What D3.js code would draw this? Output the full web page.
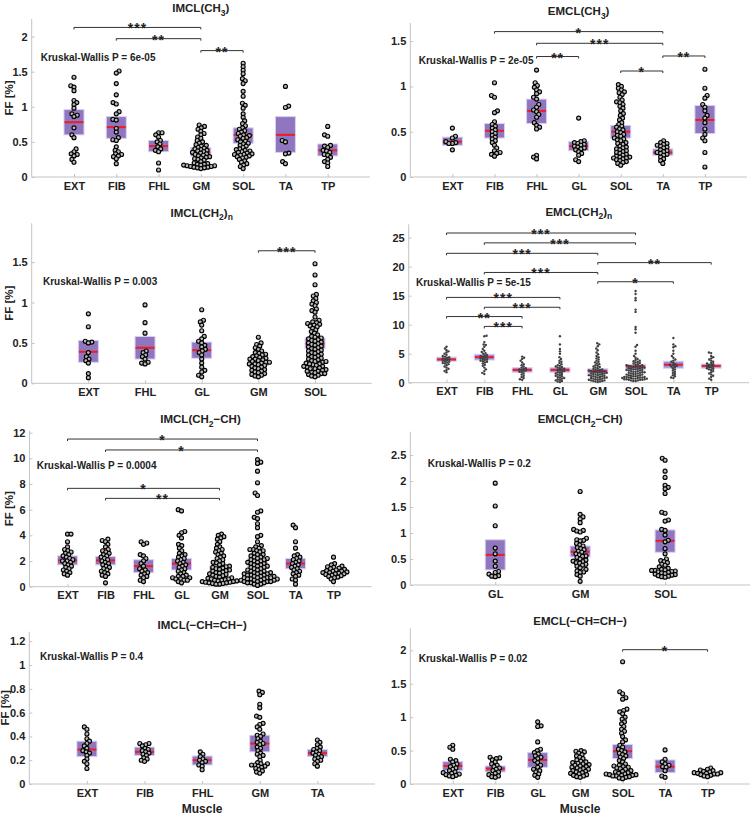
<!DOCTYPE html>
<html><head><meta charset="utf-8">
<script src="https://cdn.jsdelivr.net/npm/d3@7"></script>
<style>
body{margin:0;background:#fff}
svg{display:block}
text{font-family:"Liberation Sans",Arial,Helvetica,sans-serif;font-weight:bold;fill:#222}
</style>
</head><body>
<svg id="chart" width="754" height="815"></svg>
<script>
// ---------- DATA ----------
// Panel 1: IMCL(CH3)
const p1Categories = ["EXT","FIB","FHL","GM","SOL","TA","TP"];
const p1Values = [
  [1.42,1.30,1.28,1.23,1.09,1.06,1.03,0.98,0.90,0.88,0.86,0.70,0.60,0.56,0.40,0.36,0.33,0.32,0.30,0.25,0.21],
  [1.51,1.48,1.33,1.17,1.06,1.04,0.93,0.90,0.82,0.81,0.69,0.64,0.56,0.53,0.52,0.43,0.38,0.36,0.33,0.32,0.30,0.29,0.26,0.19],
  [0.63,0.63,0.60,0.57,0.52,0.50,0.47,0.43,0.40,0.38,0.36,0.20,0.10],
  [0.74,0.72,0.70,0.68,0.65,0.62,0.60,0.57,0.55,0.52,0.50,0.48,0.46,0.45,0.44,0.42,0.41,0.40,0.39,0.38,0.37,0.36,0.35,0.34,0.33,0.32,0.31,0.30,0.29,0.28,0.27,0.26,0.25,0.24,0.22,0.20,0.19,0.18,0.18,0.17,0.17,0.16,0.16,0.15,0.15,0.14,0.14,0.13,0.13,0.12],
  [1.62,1.57,1.52,1.47,1.40,1.37,1.33,1.22,1.15,1.05,1.02,0.98,0.90,0.85,0.80,0.76,0.73,0.70,0.68,0.66,0.64,0.62,0.60,0.59,0.58,0.56,0.55,0.53,0.51,0.50,0.48,0.47,0.45,0.44,0.42,0.40,0.39,0.38,0.37,0.36,0.35,0.34,0.33,0.32,0.32,0.31,0.30,0.29,0.28,0.27,0.25,0.23,0.21,0.19,0.17,0.15,0.12],
  [1.29,1.01,0.99,0.52,0.50,0.34,0.33,0.22,0.19],
  [0.72,0.60,0.58,0.45,0.44,0.42,0.38,0.37,0.35,0.32,0.31,0.28,0.25,0.22,0.20,0.15]
];
const p1BoxLow  = [0.60,0.55,0.36,0.29,0.48,0.35,0.30];
const p1BoxHigh = [0.96,0.86,0.52,0.42,0.70,0.86,0.47];
const p1Median  = [0.78,0.71,0.44,0.35,0.60,0.60,0.38];
const p1Ticks = [0,0.5,1,1.5,2];
const p1Sig = [["EXT","GM",2.13,"***"],["FIB","GM",1.97,"**"],["GM","SOL",1.80,"**"]];

// Panel 2: EMCL(CH3)
const p2Categories = ["EXT","FIB","FHL","GL","SOL","TA","TP"];
const p2Values = [
  [0.54,0.45,0.43,0.39,0.38,0.37,0.37,0.30],
  [1.04,0.90,0.88,0.73,0.71,0.61,0.58,0.56,0.54,0.52,0.50,0.48,0.46,0.44,0.42,0.40,0.38,0.35,0.32,0.29,0.27,0.26,0.25,0.23],
  [1.18,1.04,1.01,0.99,0.96,0.94,0.92,0.88,0.86,0.80,0.77,0.74,0.72,0.69,0.66,0.60,0.57,0.55,0.53,0.24,0.22,0.20],
  [0.65,0.40,0.39,0.38,0.37,0.36,0.35,0.34,0.33,0.32,0.31,0.30,0.28,0.26,0.24,0.19,0.17],
  [1.02,1.00,0.98,0.96,0.94,0.93,0.91,0.88,0.85,0.83,0.82,0.80,0.78,0.76,0.73,0.70,0.68,0.65,0.63,0.60,0.58,0.56,0.55,0.53,0.52,0.50,0.49,0.47,0.46,0.45,0.43,0.42,0.41,0.40,0.38,0.37,0.36,0.34,0.33,0.32,0.31,0.30,0.29,0.28,0.27,0.26,0.25,0.24,0.23,0.22,0.22,0.21,0.21,0.20,0.19,0.18,0.17,0.16,0.15,0.13],
  [0.40,0.38,0.37,0.36,0.35,0.34,0.33,0.32,0.30,0.29,0.28,0.27,0.26,0.25,0.24,0.22,0.20,0.18,0.15],
  [1.19,0.98,0.90,0.87,0.80,0.77,0.73,0.68,0.65,0.60,0.53,0.47,0.43,0.40,0.27,0.11]
];
const p2BoxLow  = [0.35,0.43,0.59,0.29,0.43,0.24,0.48];
const p2BoxHigh = [0.44,0.59,0.86,0.39,0.57,0.31,0.79];
const p2Median  = [0.39,0.51,0.73,0.34,0.50,0.27,0.63];
const p2Ticks = [0,0.5,1,1.5];
const p2Sig = [["FIB","TA",1.605,"*"],["FHL","TA",1.476,"***"],["FHL","GL",1.33,"**"],["TA","TP",1.336,"**"],["SOL","TA",1.17,"*"]];

// Panel 3: IMCL(CH2)n
const p3Categories = ["EXT","FHL","GL","GM","SOL"];
const p3Values = [
  [0.86,0.70,0.52,0.51,0.50,0.38,0.33,0.30,0.28,0.25,0.12,0.07],
  [0.97,0.75,0.62,0.40,0.38,0.35,0.33,0.30,0.26,0.25,0.24],
  [0.91,0.78,0.76,0.72,0.65,0.58,0.55,0.52,0.50,0.47,0.45,0.42,0.40,0.38,0.35,0.30,0.25,0.20,0.16,0.14,0.10,0.08],
  [0.57,0.50,0.48,0.46,0.44,0.42,0.40,0.38,0.37,0.36,0.35,0.34,0.33,0.32,0.31,0.30,0.30,0.29,0.28,0.27,0.26,0.26,0.25,0.24,0.24,0.23,0.22,0.21,0.20,0.19,0.18,0.17,0.16,0.15,0.14,0.13,0.12,0.11,0.10,0.09,0.08],
  [1.48,1.34,1.22,1.10,1.08,1.05,1.02,1.00,0.98,0.96,0.92,0.90,0.88,0.82,0.78,0.76,0.75,0.74,0.73,0.72,0.71,0.70,0.68,0.66,0.64,0.62,0.60,0.58,0.57,0.56,0.55,0.54,0.53,0.52,0.51,0.50,0.49,0.48,0.47,0.46,0.45,0.44,0.43,0.42,0.41,0.40,0.39,0.38,0.37,0.36,0.35,0.34,0.33,0.32,0.31,0.30,0.29,0.28,0.27,0.26,0.25,0.24,0.23,0.22,0.21,0.20,0.19,0.18,0.17,0.16,0.15,0.14,0.13,0.12,0.11,0.10,0.09,0.08,0.27,0.24,0.21,0.18,0.15,0.12]
];
const p3BoxLow  = [0.26,0.30,0.31,0.22,0.43];
const p3BoxHigh = [0.53,0.58,0.51,0.29,0.56];
const p3Median  = [0.39,0.44,0.41,0.25,0.49];
const p3Ticks = [0,0.5,1,1.5];
const p3Sig = [["GM","SOL",1.64,"***"]];

// Panel 4: EMCL(CH2)n
const p4Categories = ["EXT","FIB","FHL","GL","GM","SOL","TA","TP"];
const p4Values = [
  [6.2,5.9,5.6,5.4,5.2,5.0,4.8,4.6,4.5,4.4,4.3,4.2,4.1,4.0,3.9,3.8,3.7,3.6,3.5,3.4,3.3,3.2,3.0,2.8,2.6,2.4,2.2,2.0,1.8],
  [8.1,8.0,7.0,6.6,6.5,6.2,5.8,5.5,5.3,5.1,5.0,4.8,4.7,4.6,4.5,4.4,4.3,4.2,4.1,4.0,3.9,3.8,3.7,3.6,3.5,3.3,3.1,2.9,2.6,2.3,2.0,1.7,1.5],
  [4.5,4.3,4.1,3.8,3.5,3.2,3.0,2.8,2.6,2.5,2.4,2.3,2.2,2.1,2.0,1.9,1.8,1.6,1.4,1.2,1.0,0.8,0.6,0.5],
  [8.0,6.6,5.8,5.4,5.0,4.4,4.1,3.8,3.6,3.4,3.2,3.0,2.9,2.8,2.7,2.6,2.5,2.4,2.3,2.2,2.1,2.0,1.9,1.8,1.7,1.6,1.5,1.4,1.3,1.2,1.1,1.0,0.9,0.8,0.7,0.6,0.5,0.4,0.3,0.2,0.1],
  [6.8,6.6,6.3,5.9,5.6,5.2,4.9,4.6,4.4,4.2,4.0,3.8,3.6,3.5,3.3,3.2,3.0,2.9,2.8,2.7,2.6,2.5,2.4,2.3,2.2,2.2,2.1,2.1,2.0,2.0,1.9,1.9,1.8,1.8,1.7,1.7,1.6,1.6,1.5,1.5,1.4,1.4,1.3,1.3,1.2,1.2,1.1,1.1,1.0,1.0,0.9,0.9,0.8,0.8,0.7,0.7,0.6,0.6,0.5,0.5,0.4,0.4,0.3,0.3,0.2,0.2,0.1],
  [15.8,15.3,14.6,14.2,12.6,12.2,9.6,9.2,8.6,6.5,6.2,5.5,5.0,4.6,4.3,4.1,3.9,3.8,3.7,3.6,3.5,3.4,3.3,3.2,3.1,3.0,3.0,2.9,2.9,2.8,2.8,2.7,2.7,2.6,2.6,2.5,2.5,2.4,2.4,2.3,2.3,2.2,2.2,2.1,2.1,2.0,2.0,1.9,1.9,1.8,1.8,1.7,1.7,1.6,1.6,1.5,1.5,1.4,1.4,1.3,1.3,1.2,1.2,1.1,1.1,1.0,1.0,1.0,0.9,0.9,0.9,0.8,0.8,0.8,0.7,0.7,0.7,0.6,0.6,0.6,0.5,0.5,0.5,0.4,0.4,0.3,0.3],
  [7.7,6.6,6.3,6.1,5.5,5.0,4.6,4.3,4.0,3.8,3.6,3.4,3.2,3.1,3.0,2.9,2.8,2.7,2.5,2.3,2.1,1.9,1.7,1.5,1.3,1.1,0.9,0.8],
  [5.2,5.1,4.6,4.4,4.2,4.0,3.8,3.6,3.4,3.3,3.2,3.1,3.0,2.9,2.8,2.7,2.6,2.5,2.4,2.3,2.2,2.0,1.8,1.6,1.4,1.2,1.0,0.7,0.5]
];
const p4BoxLow  = [3.7,3.9,1.8,1.8,1.6,2.3,2.5,2.5];
const p4BoxHigh = [4.4,4.9,2.6,2.6,2.4,3.1,3.7,3.2];
const p4Median  = [4.0,4.4,2.2,2.2,2.0,2.8,3.1,2.9];
const p4Ticks = [0,5,10,15,20,25];
const p4Sig = [["EXT","SOL",25.8,"***"],["FIB","SOL",24.1,"***"],["EXT","GM",22.3,"***"],["GM","TP",20.7,"**"],["FIB","GM",19.0,"***"],["GM","TA",17.4,"*"],["EXT","GL",14.7,"***"],["FIB","GL",13.0,"***"],["EXT","FHL",11.4,"**"],["FIB","FHL",9.7,"***"]];

// Panel 5: IMCL(CH2-CH)
const p5Categories = ["EXT","FIB","FHL","GL","GM","SOL","TA","TP"];
const p5Values = [
  [4.1,4.1,3.5,3.1,2.9,2.8,2.7,2.6,2.5,2.4,2.3,2.2,2.1,2.0,2.0,1.9,1.8,1.7,1.6,1.5,1.4,1.3,1.2,1.1,1.0,0.9],
  [3.7,3.6,3.5,3.3,3.1,2.9,2.8,2.7,2.6,2.5,2.4,2.3,2.2,2.1,2.0,1.9,1.8,1.7,1.6,1.5,1.4,1.3,1.2,1.1,1.0,0.9,0.8,0.3],
  [3.5,3.4,3.3,2.5,2.4,2.2,2.0,1.8,1.6,1.4,1.3,1.2,1.1,1.0,0.9,0.8,0.7,0.5,0.4],
  [6.0,5.9,4.3,4.2,4.0,3.8,3.3,3.2,3.0,2.8,2.6,2.5,2.4,2.3,2.2,2.1,2.0,1.9,1.8,1.7,1.6,1.5,1.4,1.3,1.2,1.1,1.0,0.9,0.8,0.8,0.7,0.7,0.6,0.6,0.5,0.5,0.4,0.3],
  [4.1,4.0,3.9,3.8,3.7,3.5,3.3,3.1,3.0,2.9,2.8,2.7,2.6,2.5,2.4,2.3,2.2,2.1,2.0,1.9,1.85,1.8,1.7,1.6,1.55,1.5,1.45,1.4,1.35,1.3,1.25,1.2,1.15,1.1,1.05,1.0,0.95,0.9,0.85,0.8,0.75,0.7,0.65,0.6,0.6,0.55,0.5,0.5,0.45,0.45,0.4,0.4,0.35,0.35,0.3,0.3,0.25,0.25,0.2,0.2],
  [9.9,9.7,9.6,9.0,8.1,7.3,7.1,5.9,5.8,5.4,5.3,4.9,4.6,4.0,3.9,3.5,3.2,3.1,3.0,2.9,2.9,2.8,2.8,2.7,2.6,2.5,2.5,2.4,2.3,2.3,2.2,2.2,2.1,2.1,2.0,2.0,1.9,1.9,1.8,1.8,1.7,1.7,1.6,1.6,1.5,1.5,1.4,1.4,1.3,1.3,1.2,1.2,1.1,1.1,1.1,1.0,1.0,1.0,0.9,0.9,0.9,0.8,0.8,0.8,0.7,0.7,0.7,0.7,0.6,0.6,0.6,0.6,0.5,0.5,0.5,0.5,0.4,0.4,0.4,0.4,0.3,0.3,0.3,0.2,0.2,0.1],
  [4.8,4.6,3.5,3.0,2.5,2.4,2.3,2.2,2.1,2.0,1.9,1.8,1.7,1.6,1.5,1.4,1.3,1.2,1.1,1.0,0.9,0.8,0.6,0.5,0.2],
  [2.3,1.8,1.7,1.6,1.55,1.5,1.45,1.4,1.35,1.3,1.25,1.2,1.2,1.15,1.1,1.1,1.05,1.0,1.0,0.95,0.9,0.85,0.8,0.75,0.7,0.6,0.4]
];
const p5BoxLow  = [1.7,1.7,1.1,1.3,1.2,1.6,1.4,1.05];
const p5BoxHigh = [2.4,2.35,2.1,2.2,1.6,2.15,2.2,1.3];
const p5Median  = [2.05,2.05,1.6,1.8,1.35,1.95,1.8,1.2];
const p5Ticks = [0,2,4,6,8,10,12];
const p5Sig = [["EXT","SOL",11.5,"*"],["FIB","SOL",10.65,"*"],["EXT","GM",7.66,"*"],["FIB","GM",6.88,"**"]];

// Panel 6: EMCL(CH2-CH)
const p6Categories = ["GL","GM","SOL"];
const p6Values = [
  [1.96,1.52,1.14,0.71,0.60,0.46,0.36,0.26,0.24,0.21,0.18,0.17,0.16],
  [1.80,1.36,1.31,1.27,1.20,1.07,1.05,1.04,1.02,0.90,0.87,0.86,0.85,0.80,0.77,0.75,0.72,0.70,0.68,0.65,0.63,0.60,0.58,0.56,0.55,0.53,0.50,0.48,0.46,0.45,0.43,0.42,0.40,0.38,0.36,0.33,0.30,0.27,0.25,0.24,0.20,0.17,0.07],
  [2.44,2.40,2.19,2.07,1.92,1.88,1.85,1.76,1.40,1.38,1.25,1.23,1.07,1.05,0.96,0.86,0.83,0.70,0.60,0.50,0.47,0.45,0.43,0.40,0.38,0.35,0.32,0.30,0.29,0.28,0.28,0.27,0.26,0.25,0.24,0.23,0.22,0.21,0.20,0.19,0.18,0.17,0.16,0.15]
];
const p6BoxLow  = [0.29,0.54,0.63];
const p6BoxHigh = [0.87,0.75,1.06];
const p6Median  = [0.58,0.64,0.85];
const p6Ticks = [0,0.5,1,1.5,2,2.5];
const p6Sig = [];

// Panel 7: IMCL(-CH=CH-)
const p7Categories = ["EXT","FIB","FHL","GM","TA"];
const p7Values = [
  [0.48,0.46,0.42,0.38,0.36,0.34,0.32,0.30,0.28,0.27,0.26,0.24,0.21,0.19,0.17,0.13],
  [0.34,0.34,0.33,0.32,0.30,0.29,0.28,0.27,0.26,0.25,0.24,0.22,0.21,0.20,0.19],
  [0.27,0.25,0.23,0.21,0.20,0.19,0.18,0.16,0.15,0.12],
  [0.78,0.77,0.75,0.67,0.64,0.57,0.56,0.51,0.50,0.48,0.46,0.42,0.41,0.40,0.38,0.36,0.35,0.34,0.33,0.31,0.30,0.28,0.26,0.25,0.24,0.23,0.20,0.18,0.17,0.17,0.16,0.16,0.15,0.15,0.14,0.13,0.12,0.11,0.10,0.09],
  [0.37,0.35,0.33,0.31,0.30,0.29,0.28,0.27,0.26,0.25,0.24,0.23,0.22,0.21,0.20,0.19,0.17,0.15]
];
const p7BoxLow  = [0.23,0.24,0.16,0.27,0.23];
const p7BoxHigh = [0.36,0.31,0.235,0.41,0.29];
const p7Median  = [0.29,0.27,0.20,0.34,0.26];
const p7Ticks = [0,0.2,0.4,0.6,0.8,1,1.2];
const p7Sig = [];

// Panel 8: EMCL(-CH=CH-)
const p8Categories = ["EXT","FIB","GL","GM","SOL","TA","TP"];
const p8Values = [
  [0.58,0.55,0.52,0.37,0.35,0.33,0.30,0.28,0.26,0.24,0.22,0.20,0.18,0.17,0.16,0.15,0.14,0.13,0.12,0.11],
  [0.40,0.39,0.38,0.36,0.33,0.30,0.28,0.26,0.24,0.22,0.20,0.18,0.16,0.14,0.12,0.11,0.10],
  [0.93,0.87,0.86,0.63,0.52,0.50,0.47,0.45,0.42,0.40,0.38,0.35,0.32,0.28,0.25,0.22,0.20,0.18,0.15,0.13,0.10],
  [0.50,0.49,0.48,0.46,0.44,0.42,0.40,0.38,0.36,0.34,0.33,0.32,0.31,0.30,0.29,0.28,0.27,0.26,0.25,0.24,0.23,0.22,0.21,0.20,0.19,0.18,0.17,0.16,0.15,0.14,0.13,0.12,0.11,0.10],
  [1.83,1.38,1.35,1.29,1.27,1.12,1.10,1.08,1.05,1.00,0.97,0.93,0.90,0.86,0.82,0.79,0.76,0.71,0.66,0.63,0.58,0.55,0.52,0.50,0.48,0.46,0.44,0.42,0.40,0.38,0.35,0.33,0.30,0.28,0.27,0.26,0.25,0.24,0.23,0.22,0.20,0.19,0.18,0.17,0.16,0.15,0.15,0.14,0.14,0.13,0.13,0.12,0.12,0.11,0.10,0.09,0.08],
  [0.51,0.37,0.33,0.30,0.28,0.26,0.25,0.20,0.12,0.10],
  [0.24,0.22,0.21,0.20,0.19,0.18,0.17,0.17,0.16,0.16,0.15,0.15,0.14,0.13,0.12,0.11]
];
const p8BoxLow  = [0.20,0.18,0.25,0.21,0.38,0.17,0.145];
const p8BoxHigh = [0.335,0.27,0.47,0.30,0.59,0.36,0.175];
const p8Median  = [0.27,0.23,0.36,0.26,0.49,0.26,0.16];
const p8Ticks = [0,0.5,1,1.5,2];
const p8Sig = [["SOL","TP",2.01,"*"]];

// ---------- LAYOUT / PANEL SPECS ----------
const panels = [
  {title:[["IMCL(CH",0],["3",1],[")",0]], cats:p1Categories, vals:p1Values, lo:p1BoxLow, hi:p1BoxHigh, med:p1Median, ticks:p1Ticks, sig:p1Sig,
   kw:"Kruskal-Wallis P = 6e-05", x0:31.7, x1:370, yb:177, yt:19, ymax:2.25, titleY:12, kwX:40.7, kwY:60.5, ylabX:13},
  {title:[["EMCL(CH",0],["3",1],[")",0]], cats:p2Categories, vals:p2Values, lo:p2BoxLow, hi:p2BoxHigh, med:p2Median, ticks:p2Ticks, sig:p2Sig,
   kw:"Kruskal-Wallis P = 2e-05", x0:410.3, x1:747, yb:177, yt:23, ymax:1.70, titleY:15, kwX:418.7, kwY:64},
  {title:[["IMCL(CH",0],["2",1],[")",0],["n",1]], cats:p3Categories, vals:p3Values, lo:p3BoxLow, hi:p3BoxHigh, med:p3Median, ticks:p3Ticks, sig:p3Sig,
   kw:"Kruskal-Wallis P = 0.003", x0:31.7, x1:371.7, yb:383.3, yt:223.3, ymax:1.98, titleY:216.5, kwX:43, kwY:285, ylabX:13},
  {title:[["EMCL(CH",0],["2",1],[")",0],["n",1]], cats:p4Categories, vals:p4Values, lo:p4BoxLow, hi:p4BoxHigh, med:p4Median, ticks:p4Ticks, sig:p4Sig,
   kw:"Kruskal-Wallis P = 5e-15", x0:408.7, x1:749, yb:382.7, yt:224.3, ymax:27.3, titleY:215.5, kwX:416, kwY:286, small:true},
  {title:[["IMCL(CH",0],["2",1],["\u2212CH)",0]], cats:p5Categories, vals:p5Values, lo:p5BoxLow, hi:p5BoxHigh, med:p5Median, ticks:p5Ticks, sig:p5Sig,
   kw:"Kruskal-Wallis P = 0.0004", x0:29.5, x1:371.5, yb:586.7, yt:430.7, ymax:12.15, titleY:423, kwX:36.7, kwY:469, ylabX:13},
  {title:[["EMCL(CH",0],["2",1],["\u2212CH)",0]], cats:p6Categories, vals:p6Values, lo:p6BoxLow, hi:p6BoxHigh, med:p6Median, ticks:p6Ticks, sig:p6Sig,
   kw:"Kruskal-Wallis P = 0.2", x0:410.3, x1:750, yb:585, yt:431.7, ymax:2.95, titleY:423, kwX:427.7, kwY:467},
  {title:[["IMCL(\u2212CH=CH\u2212)",0]], cats:p7Categories, vals:p7Values, lo:p7BoxLow, hi:p7BoxHigh, med:p7Median, ticks:p7Ticks, sig:p7Sig,
   kw:"Kruskal-Wallis P = 0.4", x0:29.3, x1:375, yb:784, yt:631.7, ymax:1.28, titleY:629, kwX:40, kwY:660, ylabX:9, xlab:true},
  {title:[["EMCL(\u2212CH=CH\u2212)",0]], cats:p8Categories, vals:p8Values, lo:p8BoxLow, hi:p8BoxHigh, med:p8Median, ticks:p8Ticks, sig:p8Sig,
   kw:"Kruskal-Wallis P = 0.02", x0:410.3, x1:750, yb:784, yt:628.3, ymax:2.33, titleY:625, kwX:418.7, kwY:662, xlab:true}
];

const svg = d3.select("#chart");

function dodge(ys, D){
  const order = ys.map((y,i)=>i).sort((a,b)=>ys[b]-ys[a]);
  const placed = []; const out = new Array(ys.length); let flip = 1;
  for (const i of order){
    const y = ys[i]; const iv = [];
    for (const p of placed){ const dy = Math.abs(p.y-y); if (dy < D){ const w = Math.sqrt(D*D-dy*dy); iv.push([p.x-w,p.x+w]); } }
    const c = [0]; iv.forEach(([a,b])=>{c.push(a,b);});
    c.sort((a,b)=>(Math.abs(a)-Math.abs(b)) || (flip*(a-b)));
    let x = 0;
    for (const v of c){ if (iv.every(([a,b])=> v<=a+1e-6 || v>=b-1e-6)){ x=v; break; } }
    if (x!==0) flip = -flip;
    out[i]=x; placed.push({x,y});
  }
  return out;
}

function fmt(v){ return String(+v.toFixed(2)); }

panels.forEach(P=>{
  const n = P.cats.length;
  const x = d3.scaleLinear().domain([0,n+1]).range([P.x0,P.x1]);
  const y = d3.scaleLinear().domain([0,P.ymax]).range([P.yb,P.yt]);
  const g = svg.append("g");
  const pos = c => x(P.cats.indexOf(c)+1);

  // axes
  const yAxis = d3.axisLeft(y).tickValues(P.ticks).tickSize(-3).tickPadding(4).tickFormat(fmt);
  const ya = g.append("g").attr("transform",`translate(${P.x0},0)`).call(yAxis);
  const xAxis = d3.axisBottom(x).tickValues(d3.range(1,n+1)).tickSize(-3).tickPadding(5).tickFormat(d=>P.cats[d-1]);
  const xa = g.append("g").attr("transform",`translate(0,${P.yb})`).call(xAxis);
  [ya,xa].forEach(a=>{
    a.select(".domain").attr("stroke","#c4c4c4").attr("stroke-width",1);
    a.selectAll(".tick line").attr("stroke","#c4c4c4");
    a.selectAll(".tick text").attr("fill","#222").style("font-size","11px").style("font-weight","bold")
      .style("font-family","'Liberation Sans',Arial,sans-serif");
  });
  ya.select(".domain").attr("d",`M0,${P.yb}V${P.yt}`);
  xa.select(".domain").attr("d",`M${P.x0},0H${P.x1}`);
  xa.selectAll(".tick text").attr("dy","0.71em");

  const bw = 20;
  const boxFill = P.small ? "#9e8fdc" : "#8f76bf";
  // boxes
  g.append("g").selectAll("rect").data(P.cats).join("rect")
    .attr("x",(c,i)=>x(i+1)-bw/2).attr("width",bw)
    .attr("y",(c,i)=>y(P.hi[i])).attr("height",(c,i)=>y(P.lo[i])-y(P.hi[i]))
    .attr("fill",boxFill).attr("stroke","#d9d0f2").attr("stroke-width",1);
  // medians
  g.append("g").selectAll("line").data(P.cats).join("line")
    .attr("x1",(c,i)=>x(i+1)-bw/2+0.5).attr("x2",(c,i)=>x(i+1)+bw/2-0.5)
    .attr("y1",(c,i)=>y(P.med[i])).attr("y2",(c,i)=>y(P.med[i]))
    .attr("stroke","#ee1c25").attr("stroke-width",2);
  // dots
  const r = P.small ? 1.2 : 2.0;
  const D = P.small ? 2.3 : 3.5;
  P.vals.forEach((vals,i)=>{
    const ys = vals.map(v=>y(v));
    const dx = dodge(ys, D);
    const cx = x(i+1);
    g.append("g").selectAll("circle").data(vals).join("circle")
      .attr("cx",(v,j)=>cx+dx[j]).attr("cy",(v,j)=>ys[j]).attr("r",r)
      .attr("fill",P.small ? "#3f3f3f" : "#b8b8b8")
      .attr("stroke",P.small ? "none" : "#000").attr("stroke-width",1.15);
  });
  // significance bars
  P.sig.forEach(([a,b,v,s])=>{
    const xa1 = pos(a), xb1 = pos(b), yy = y(v);
    g.append("path").attr("d",`M${xa1},${yy+2}V${yy}H${xb1}V${yy+2}`)
      .attr("fill","none").attr("stroke","#333").attr("stroke-width",1);
    g.append("text").attr("x",(xa1+xb1)/2).attr("y",yy+6).attr("text-anchor","middle")
      .style("font-size","14px").style("letter-spacing","1px").text(s);
  });
  // KW text
  g.append("text").attr("x",P.kwX).attr("y",P.kwY).style("font-size","10px").text(P.kw);
  // title
  const t = g.append("text").attr("x",(P.x0+P.x1)/2).attr("y",P.titleY).attr("text-anchor","middle").style("font-size","11.5px");
  let shift = 0;
  P.title.forEach(([s,sub])=>{
    const target = sub ? 3.5 : 0;
    t.append("tspan").attr("dy",target-shift).style("font-size",sub?"8.5px":"11.5px").text(s);
    shift = target;
  });
  // y label
  if (P.ylabX!==undefined){
    g.append("text").attr("transform",`translate(${P.ylabX},${(P.yb+P.yt)/2}) rotate(-90)`)
      .attr("text-anchor","middle").style("font-size","11.5px").text("FF [%]");
  }
  if (P.xlab){
    g.append("text").attr("x",(P.x0+P.x1)/2).attr("y",813).attr("text-anchor","middle").style("font-size","12px").text("Muscle");
  }
});
</script>
</body></html>
